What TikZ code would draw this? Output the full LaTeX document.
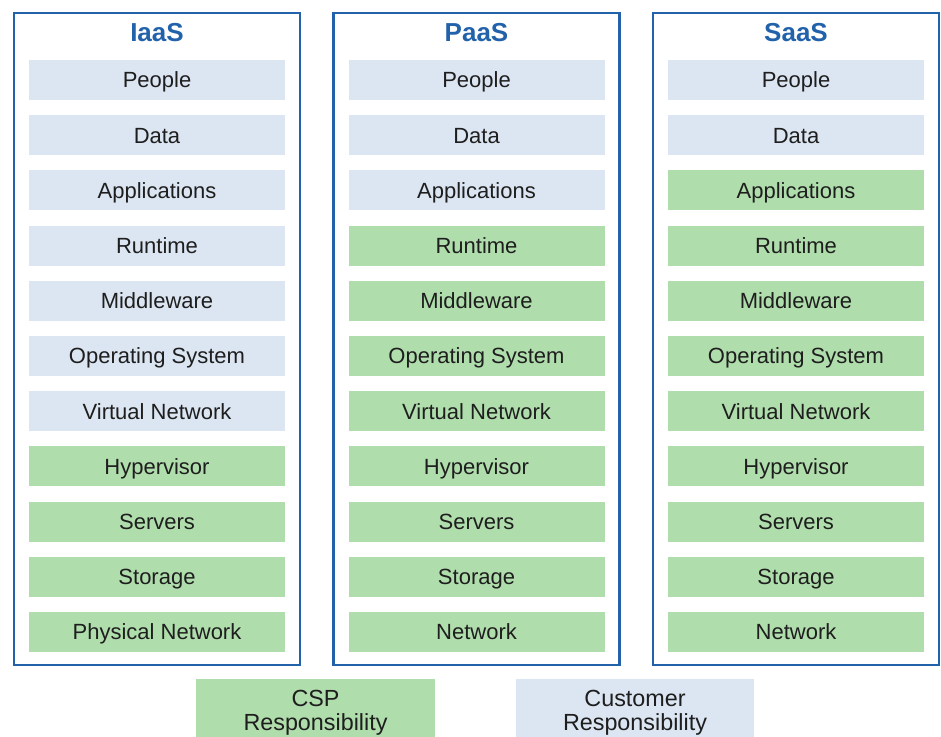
\documentclass[tikz,border=0pt]{standalone}
\usepackage{fontspec}
\setmainfont{Liberation Sans}
\usetikzlibrary{positioning}

\definecolor{frameblue}{HTML}{2262AA}
\definecolor{custfill}{HTML}{DCE6F2}
\definecolor{cspfill}{HTML}{B0DDAC}
\definecolor{textgray}{HTML}{1E1E1E}

\begin{document}
\begin{tikzpicture}[x=0.75pt,y=-0.75pt,
    every node/.style={text=textgray},
    layer/.style={minimum width=192pt, minimum height=30pt, inner sep=0pt,
        text height=13.8pt, text depth=2pt,
        font=\fontsize{16.5}{19}\selectfont},
    heading/.style={font=\bfseries\fontsize{19.5}{23}\selectfont, text=frameblue},
    legendbox/.style={minimum width=179pt, minimum height=50pt, inner sep=0pt,
        align=center, font=\fontsize{17.5}{17.5}\selectfont}]
    \useasboundingbox (0,0) rectangle (941,736);

    % One column per service model; \ncust = rows owned by the customer
    \foreach \c/\title/\ncust/\lastrow in {0/IaaS/7/Physical Network,
                                           1/PaaS/3/Network,
                                           2/SaaS/2/Network} {
        \begin{scope}[shift={(\c*319.5, 0)}]
            % Outer frame and heading
            \draw[frameblue, line width=1.8pt] (14,13) rectangle (300,665);
            \node[heading] (\title-title) at (157,33) {\title};
            % Stack of layers, top to bottom
            \foreach \name [count=\r] in {People,Data,Applications,Runtime,
                    Middleware,Operating System,Virtual Network,Hypervisor,
                    Servers,Storage,\lastrow} {
                \ifnum\r>\ncust
                    \def\rowfill{cspfill}
                \else
                    \def\rowfill{custfill}
                \fi
                \node[layer, fill=\rowfill] (\title-\r) at (157, {80+55.2*(\r-1)}) {\name};
            }
        \end{scope}
    }

    % Legend (runs off the bottom edge)
    \node[legendbox, fill=cspfill, anchor=north] (csp) at (315.5,679) {CSP\\Responsibility};
    \node[legendbox, fill=custfill, anchor=north] (cust) at (635,679) {Customer\\Responsibility};

\end{tikzpicture}
\end{document}
